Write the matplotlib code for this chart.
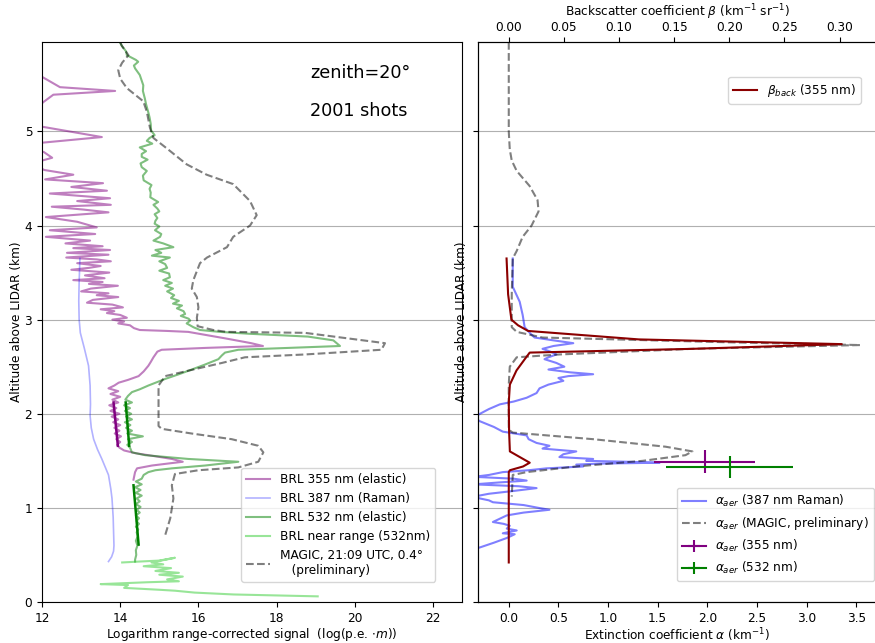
import matplotlib
matplotlib.use("Agg")
import matplotlib.pyplot as plt

# ---------------- Left panel data (x = log signal, y = altitude km) ----------------
x355 = [12.00, 12.46, 13.87, 12.29, 12.03, 11.70, 12.00, 13.53, 12.00, 11.75, 12.05, 12.26, 12.00, 11.85,
        12.06, 12.80, 12.08, 13.56, 12.75, 13.66, 12.20, 13.74, 12.90, 13.76, 12.25, 13.05, 13.70, 12.10,
        12.90, 13.40, 12.20, 13.36, 12.10, 13.23, 12.60, 13.55, 12.80, 13.74, 12.64, 13.70, 12.62, 13.40,
        13.76, 12.90, 13.50, 13.20, 12.75, 13.72, 13.10, 13.60, 12.80, 13.55, 13.20, 13.94, 13.25, 13.00,
        13.70, 13.40, 13.95, 13.30, 13.15, 13.80, 14.07, 13.50, 13.85, 13.66, 14.00, 14.17, 13.80, 14.10,
        13.95, 14.25, 14.35, 14.50, 15.20, 15.74, 16.70, 17.35, 17.65, 16.20, 15.06, 14.95, 14.85, 14.78,
        14.72, 14.60, 14.47, 14.20, 13.96, 13.85, 13.70, 13.95, 13.75, 14.00, 13.80, 13.95, 13.72, 13.90,
        13.75, 13.98, 13.78, 13.95, 13.82, 14.00, 13.85, 13.98, 13.86, 14.02, 13.90, 14.00, 13.92, 13.98,
        14.10, 14.40, 14.72, 15.32, 15.60, 15.20, 14.81, 14.43, 14.38, 14.34]
y355 = [5.58, 5.47, 5.43, 5.39, 5.31, 5.18, 5.05, 4.94, 4.88, 4.82, 4.78, 4.72, 4.69, 4.63,
        4.59, 4.54, 4.49, 4.45, 4.41, 4.37, 4.34, 4.29, 4.26, 4.22, 4.20, 4.17, 4.14, 4.09,
        4.04, 3.98, 3.95, 3.91, 3.88, 3.84, 3.81, 3.78, 3.76, 3.74, 3.71, 3.69, 3.66, 3.64,
        3.62, 3.60, 3.57, 3.55, 3.53, 3.50, 3.47, 3.44, 3.42, 3.40, 3.38, 3.36, 3.33, 3.30,
        3.28, 3.26, 3.24, 3.21, 3.18, 3.16, 3.13, 3.11, 3.09, 3.07, 3.05, 3.02, 3.00, 2.98,
        2.96, 2.94, 2.91, 2.89, 2.88, 2.87, 2.80, 2.75, 2.72, 2.70, 2.68, 2.66, 2.60, 2.55,
        2.51, 2.45, 2.40, 2.36, 2.33, 2.30, 2.27, 2.24, 2.21, 2.18, 2.15, 2.12, 2.09, 2.06,
        2.03, 2.00, 1.97, 1.94, 1.91, 1.88, 1.85, 1.82, 1.79, 1.76, 1.73, 1.70, 1.67, 1.64,
        1.61, 1.58, 1.56, 1.52, 1.49, 1.47, 1.45, 1.42, 1.38, 1.30]

x387 = [12.97, 12.95, 12.94, 12.95, 12.98, 13.08, 13.19, 13.23, 13.24, 13.23, 13.26, 13.32, 13.42, 13.53,
        13.62, 13.70, 13.76, 13.79, 13.82, 13.83, 13.84, 13.83, 13.78, 13.70]
y387 = [3.65, 3.40, 3.20, 3.00, 2.86, 2.70, 2.51, 2.30, 2.10, 1.98, 1.85, 1.73, 1.62, 1.52,
        1.43, 1.35, 1.20, 1.10, 0.90, 0.75, 0.60, 0.54, 0.48, 0.43]

x532 = [14.00, 14.04, 14.15, 14.17, 14.40, 14.46, 14.35, 14.38, 14.50, 14.59, 14.58, 14.63, 14.66, 14.72,
        14.75, 14.78, 14.79, 14.88, 14.75, 14.68, 14.82, 14.50, 14.66, 14.55, 14.55, 14.70, 14.52, 14.55,
        14.68, 14.58, 14.60, 14.80, 14.75, 14.78, 14.77, 14.97, 14.85, 14.95, 15.00, 14.88, 14.95, 14.90,
        14.88, 15.00, 14.89, 15.05, 15.02, 14.85, 15.10, 15.36, 14.90, 15.05, 14.81, 15.27, 15.00, 15.15,
        15.20, 15.00, 15.25, 15.27, 15.10, 15.32, 15.15, 15.35, 15.20, 15.38, 15.30, 15.50, 15.35, 15.58,
        15.45, 15.62, 15.66, 15.55, 15.75, 15.79, 15.70, 15.87, 16.04, 16.55, 17.30, 18.80, 19.45, 19.62,
        17.02, 16.68, 16.60, 16.51, 16.15, 15.83, 15.50, 15.15, 14.90, 14.72, 14.50, 14.30, 14.20, 14.13,
        14.30, 14.10, 14.25, 14.12, 14.28, 14.15, 14.30, 14.12, 14.26, 14.15, 14.30, 14.18, 14.58, 14.20,
        14.30, 14.18, 14.25, 14.28, 14.30, 14.64, 15.74, 17.02, 16.60, 16.17, 15.32, 14.90, 14.72, 14.60,
        14.55, 14.40, 14.55, 14.38, 14.52, 14.40, 14.55, 14.42, 14.50, 14.40, 14.52, 14.42, 14.50, 14.40,
        14.48, 14.42, 14.48, 14.40, 14.46, 14.42, 14.45, 14.40, 14.44, 14.40, 14.41, 14.38, 14.38]
y532 = [5.94, 5.91, 5.85, 5.81, 5.76, 5.74, 5.70, 5.67, 5.60, 5.49, 5.43, 5.35, 5.29, 5.20,
        5.15, 5.08, 5.01, 4.96, 4.93, 4.90, 4.87, 4.83, 4.79, 4.76, 4.73, 4.70, 4.66, 4.62,
        4.58, 4.53, 4.48, 4.43, 4.39, 4.35, 4.30, 4.25, 4.22, 4.18, 4.15, 4.12, 4.08, 4.05,
        4.02, 3.99, 3.95, 3.91, 3.88, 3.84, 3.81, 3.77, 3.74, 3.71, 3.68, 3.66, 3.62, 3.59,
        3.55, 3.52, 3.49, 3.45, 3.42, 3.39, 3.36, 3.33, 3.30, 3.26, 3.23, 3.20, 3.17, 3.15,
        3.12, 3.09, 3.06, 3.04, 3.01, 2.99, 2.96, 2.92, 2.89, 2.87, 2.85, 2.82, 2.78, 2.72,
        2.68, 2.65, 2.62, 2.58, 2.52, 2.47, 2.42, 2.37, 2.33, 2.30, 2.26, 2.23, 2.19, 2.15,
        2.12, 2.09, 2.06, 2.03, 2.00, 1.97, 1.94, 1.91, 1.88, 1.85, 1.82, 1.79, 1.76, 1.73,
        1.70, 1.67, 1.64, 1.61, 1.59, 1.56, 1.52, 1.49, 1.47, 1.45, 1.42, 1.40, 1.38, 1.35,
        1.31, 1.28, 1.25, 1.22, 1.19, 1.16, 1.13, 1.10, 1.07, 1.04, 1.01, 0.98, 0.95, 0.92,
        0.89, 0.86, 0.83, 0.80, 0.77, 0.74, 0.70, 0.65, 0.60, 0.55, 0.50, 0.45, 0.43]

x_near = [14.05, 14.50, 15.00, 15.40, 14.80, 15.10, 14.60, 15.30, 14.90, 15.50, 15.00, 15.60, 15.20,
          15.50, 14.70, 13.50, 14.20, 14.10, 15.00, 15.40, 15.90, 16.90, 19.05]
y_near = [0.42, 0.43, 0.44, 0.47, 0.42, 0.40, 0.38, 0.36, 0.33, 0.31, 0.29, 0.27, 0.24,
          0.22, 0.21, 0.19, 0.18, 0.15, 0.13, 0.12, 0.10, 0.08, 0.06]

fit355_x = [13.83, 13.94]
fit355_y = [2.12, 1.66]
fit532a_x = [14.14, 14.23]
fit532a_y = [2.12, 1.66]
fit532b_x = [14.34, 14.47]
fit532b_y = [1.24, 0.61]

x_magic = [14.00, 14.04, 14.21, 14.05, 13.95, 14.00, 14.17, 14.59, 14.68, 14.76, 14.85, 15.19, 15.70,
           16.21, 16.89, 17.32, 17.49, 17.32, 16.89, 16.73, 16.22, 16.04, 15.87, 15.83, 15.96, 16.00,
           15.96, 15.98, 16.38, 16.72, 18.72, 20.77, 20.68, 18.72, 17.19, 16.60, 15.66, 15.15, 14.98,
           14.98, 15.06, 15.83, 16.85, 17.53, 17.66, 17.53, 17.02, 16.00, 15.40, 15.32, 15.36, 15.28, 15.15]
y_magic = [5.95, 5.91, 5.81, 5.73, 5.65, 5.56, 5.46, 5.32, 5.21, 5.04, 4.93, 4.82, 4.65,
           4.54, 4.44, 4.26, 4.11, 4.00, 3.88, 3.77, 3.66, 3.60, 3.42, 3.33, 3.24, 3.13,
           3.02, 2.93, 2.89, 2.87, 2.86, 2.75, 2.68, 2.63, 2.60, 2.54, 2.45, 2.40, 2.30,
           1.87, 1.84, 1.79, 1.73, 1.66, 1.59, 1.49, 1.43, 1.40, 1.36, 1.24, 1.10, 0.89, 0.71]

# ---------------- Right panel data ----------------
a_raman = [0.04, 0.04, 0.04, 0.11, 0.14, 0.16, 0.22, 0.26, 0.45, 0.65, 0.45, 0.34, 0.42, 0.48,
           0.40, 0.36, 0.48, 0.56, 0.40, 0.62, 0.85, 0.60, 0.50, 0.55, 0.40, 0.31, 0.28, 0.18,
           0.05, -0.09, -0.20, -0.29, -0.35, -0.29, -0.15, -0.06, 0.18, 0.20, 0.28, 0.41, 0.34,
           0.68, 0.55, 0.51, 0.85, 0.78, 1.20, 1.52, 0.90, 0.68, 0.75, 0.38, 0.20, -0.06, -0.20,
           -0.35, 0.05, 0.18, -0.10, -0.35, 0.10, 0.28, 0.05, -0.20, -0.35, -0.29, -0.20, -0.16,
           0.15, 0.30, 0.41, 0.15, -0.02, -0.10, -0.16, -0.05, 0.01, -0.02, 0.08, -0.06, 0.06,
           -0.02, -0.15, -0.29, -0.40]
y_raman = [3.65, 3.50, 3.35, 3.19, 3.05, 2.92, 2.85, 2.81, 2.78, 2.75, 2.72, 2.69, 2.66, 2.63,
           2.60, 2.58, 2.54, 2.50, 2.47, 2.44, 2.42, 2.40, 2.38, 2.35, 2.31, 2.27, 2.22, 2.17,
           2.13, 2.10, 2.05, 2.00, 1.96, 1.92, 1.86, 1.81, 1.77, 1.73, 1.69, 1.66, 1.63,
           1.60, 1.57, 1.54, 1.52, 1.50, 1.49, 1.48, 1.47, 1.46, 1.44, 1.42, 1.40, 1.38, 1.35,
           1.33, 1.31, 1.29, 1.27, 1.25, 1.23, 1.21, 1.18, 1.15, 1.12, 1.10, 1.08, 1.06,
           1.03, 1.00, 0.98, 0.95, 0.92, 0.88, 0.85, 0.83, 0.81, 0.78, 0.76, 0.73, 0.72,
           0.68, 0.63, 0.58, 0.55]

a_magic = [0.00, 0.00, 0.00, 0.01, 0.03, 0.08, 0.21, 0.29, 0.30, 0.23, 0.14, 0.08, 0.04, 0.03,
           0.03, 0.08, 0.34, 2.19, 3.54, 1.85, 0.51, 0.08, 0.01, 0.00, 0.00, 0.04, 0.85, 1.58,
           1.85, 1.78, 1.35, 0.68, 0.18, 0.04, 0.03]
y_amagic = [5.95, 5.50, 5.00, 4.81, 4.69, 4.58, 4.42, 4.27, 4.15, 4.00, 3.88, 3.73, 3.65, 3.27,
            2.92, 2.87, 2.81, 2.76, 2.73, 2.69, 2.63, 2.60, 2.50, 2.31, 1.83, 1.80, 1.73, 1.65,
            1.60, 1.56, 1.50, 1.44, 1.38, 1.35, 1.12]

beta = [-0.002, -0.0006, 0.0024, 0.0084, 0.0175, 0.118, 0.302, 0.167, 0.019, 0.0145, 0.007, 0.001,
        0.000, 0.0003, 0.001, 0.010, 0.016, 0.019, 0.013, 0.001, 0.000, 0.000, 0.000]
y_beta = [3.65, 3.27, 3.00, 2.94, 2.88, 2.79, 2.74, 2.69, 2.65, 2.58, 2.46, 2.31,
          2.12, 1.81, 1.60, 1.54, 1.50, 1.48, 1.44, 1.40, 1.38, 0.96, 0.42]

a355_pt, y355_pt, a355_xerr, a355_yerr = 1.975, 1.49, 0.51, 0.12
a532_pt, y532_pt, a532_xerr, a532_yerr = 2.226, 1.435, 0.64, 0.12

left_xticks = [12, 14, 16, 18, 20, 22]
right_xticks = [0.0, 0.5, 1.0, 1.5, 2.0, 2.5, 3.0, 3.5]
top_xticks = [0.00, 0.05, 0.10, 0.15, 0.20, 0.25, 0.30]
yticks = [0, 1, 2, 3, 4, 5]

FS = 8.7
plt.rcParams['font.family'] = ['DejaVu Sans']
plt.rcParams['font.size'] = FS

fig = plt.figure(figsize=(8.75, 6.43), dpi=100)
W, H = 875.0, 643.0
ax1 = fig.add_axes([42 / W, 1 - 602 / H, 420 / W, 560 / H])
ax2 = fig.add_axes([478 / W, 1 - 602 / H, 398 / W, 560 / H])

# ---------- left ----------
ax1.plot(x355, y355, color='purple', alpha=0.5, lw=1.5, label='BRL 355 nm (elastic)')
ax1.plot(x387, y387, color='blue', alpha=0.3, lw=1.2, label='BRL 387 nm (Raman)')
ax1.plot(x532, y532, color='green', alpha=0.5, lw=1.5, label='BRL 532 nm (elastic)')
ax1.plot(x_near, y_near, color='limegreen', alpha=0.5, lw=1.5, label='BRL near range (532nm)')
ax1.plot(x_magic, y_magic, color='black', alpha=0.5, lw=1.5, ls='--',
         label='MAGIC, 21:09 UTC, 0.4°\n   (preliminary)')
ax1.plot(fit355_x, fit355_y, color='purple', lw=1.8)
ax1.plot(fit532a_x, fit532a_y, color='green', lw=1.8)
ax1.plot(fit532b_x, fit532b_y, color='green', lw=1.8)

ax1.set_xlim(12, 22.74)
ax1.set_ylim(0, 5.95)
ax1.set_xticks(left_xticks)
ax1.set_yticks(yticks)
ax1.yaxis.grid(True, color='#b0b0b0', lw=0.8)
ax1.set_axisbelow(True)
ax1.set_xlabel('Logarithm range-corrected signal  (log(p.e. $\\cdot m$))', fontsize=FS, labelpad=1)
ax1.set_ylabel('Altitude above LIDAR (km)', fontsize=FS, labelpad=1)
ax1.text(18.85, 5.62, 'zenith=20°', fontsize=12.7, va='center', ha='left')
ax1.text(18.85, 5.22, '2001 shots', fontsize=12.7, va='center', ha='left')
ax1.legend(loc='lower right', bbox_to_anchor=(0.936, 0.036), borderaxespad=0, fontsize=FS)

# ---------- right ----------
ax2.plot(a_raman, y_raman, color='blue', alpha=0.5, lw=1.5, label='$\\alpha_{aer}$ (387 nm Raman)')
ax2.plot(a_magic, y_amagic, color='black', alpha=0.5, lw=1.5, ls='--',
         label='$\\alpha_{aer}$ (MAGIC, preliminary)')
ax2.errorbar([a355_pt], [y355_pt], xerr=[a355_xerr], yerr=[a355_yerr], color='purple', lw=1.5,
             label='$\\alpha_{aer}$ (355 nm)')
ax2.errorbar([a532_pt], [y532_pt], xerr=[a532_xerr], yerr=[a532_yerr], color='green', lw=1.5,
             label='$\\alpha_{aer}$ (532 nm)')
ax2.set_xlim(-0.31, 3.70)
ax2.set_ylim(0, 5.95)
ax2.set_xticks(right_xticks)
ax2.set_yticks(yticks)
ax2.set_yticklabels([])
ax2.yaxis.grid(True, color='#b0b0b0', lw=0.8)
ax2.set_axisbelow(True)
ax2.set_xlabel('Extinction coefficient $\\alpha$ (km$^{-1}$)', fontsize=FS, labelpad=1)
ax2.set_ylabel('Altitude above LIDAR (km)', fontsize=FS, labelpad=0)
ax2.legend(loc='lower right', bbox_to_anchor=(0.995, 0.0375), borderaxespad=0, fontsize=FS)

ax3 = ax2.twiny()
ax3.plot(beta, y_beta, color='darkred', lw=1.5, label='$\\beta_{back}$ (355 nm)')
ax3.set_xlim(-0.31 / 11.11, 3.70 / 11.11)
ax3.set_xticks(top_xticks)
ax3.set_xticklabels(['%.2f' % t for t in top_xticks])
ax3.tick_params(axis='x', pad=2)
ax3.set_xlabel('Backscatter coefficient $\\beta$ (km$^{-1}$ sr$^{-1}$)', fontsize=FS, labelpad=4)
ax3.legend(loc='upper right', bbox_to_anchor=(0.962, 0.9375), borderaxespad=0, fontsize=FS)

fig.savefig('out.png', dpi=100)
